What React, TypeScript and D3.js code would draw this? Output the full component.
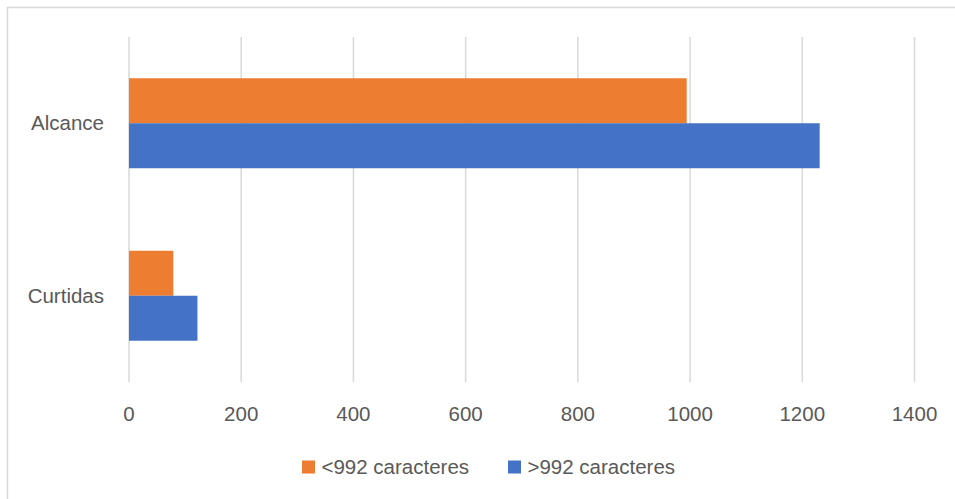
import React from "react";
import * as d3 from "d3";

const categories = ["Alcance", "Curtidas"];
const seriesNames = ["<992 caracteres", ">992 caracteres"];
const seriesColors = ["#ED7D31", "#4472C4"];
const shortText = [994, 79];
const longText = [1231, 122];
const xTicks = [0, 200, 400, 600, 800, 1000, 1200, 1400];

const W = 955;
const H = 499;
const FONT = "'Liberation Sans', Arial, sans-serif";
const TEXT = "#595959";
const GRID = "#d9d9d9";

export default function App() {
  const x = d3.scaleLinear().domain([0, 1400]).range([129, 914.5]);
  const y = d3.scaleBand<string>().domain(categories).range([37, 382]).paddingInner(0.4783).paddingOuter(0.23915);
  const sub = d3.scaleBand<string>().domain(seriesNames).range([0, y.bandwidth()]);
  const values = [shortText, longText];

  const legendX = [302, 508];

  return (
    <svg width={W} height={H} style={{ position: "absolute", left: 0, top: 0, background: "#fff" }} fontFamily={FONT}>
      <rect x={0} y={0} width={W} height={H} fill="#fff" />
      <rect x={7.5} y={7.5} width={W + 10} height={H + 10} fill="none" stroke={GRID} strokeWidth={1.5} />
      {xTicks.map((t) => (
        <line key={t} x1={x(t)} x2={x(t)} y1={37} y2={382} stroke={GRID} strokeWidth={1.5} />
      ))}
      {categories.map((c, ci) =>
        seriesNames.map((s, si) => (
          <rect
            key={c + s}
            x={x(0)}
            y={(y(c) ?? 0) + (sub(s) ?? 0)}
            width={x(values[si][ci]) - x(0)}
            height={sub.bandwidth()}
            fill={seriesColors[si]}
          />
        ))
      )}
      {categories.map((c) => (
        <text key={c} x={104} y={(y(c) ?? 0) + y.bandwidth() / 2} dy="0.35em" textAnchor="end" fontSize={20.5} fill={TEXT}>
          {c}
        </text>
      ))}
      {xTicks.map((t) => (
        <text key={t} x={x(t)} y={421} textAnchor="middle" fontSize={20.5} fill={TEXT}>
          {t}
        </text>
      ))}
      {seriesNames.map((s, si) => (
        <g key={s}>
          <rect x={legendX[si]} y={460.5} width={13} height={13} fill={seriesColors[si]} />
          <text x={legendX[si] + 19.5} y={474} fontSize={20.5} fill={TEXT}>
            {s}
          </text>
        </g>
      ))}
    </svg>
  );
}
